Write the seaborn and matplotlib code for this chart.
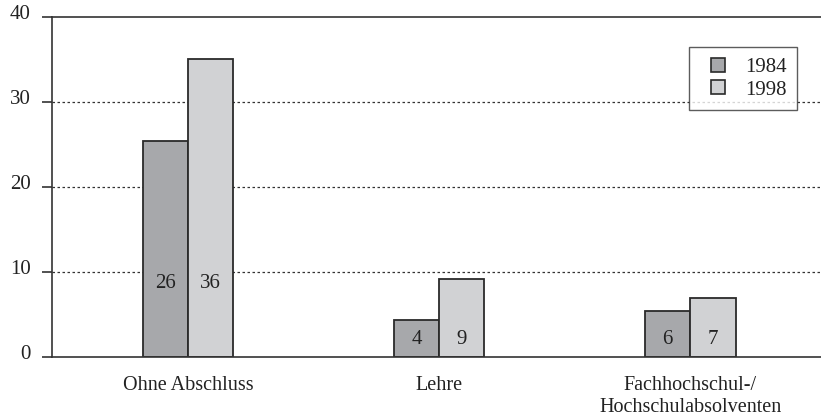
import matplotlib
matplotlib.use("Agg")
import matplotlib.pyplot as plt
import matplotlib.transforms as mtransforms
import seaborn as sns
import pandas as pd
from matplotlib.lines import Line2D

categories = ["Ohne Abschluss", "Lehre", "Fachhochschul-/\nHochschulabsolventen"]
years = ["1984", "1998"]
values_1984 = [25.4, 4.35, 5.4]
values_1998 = [35.05, 9.2, 6.9]
labels_1984 = ["26", "4", "6"]
labels_1998 = ["36", "9", "7"]

sns.set_style("white", {"ytick.left": True, "axes.edgecolor": "#333333"})
plt.rcParams["font.family"] = ["Liberation Serif", "DejaVu Serif"]
plt.rcParams["ytick.major.size"] = 7.2
plt.rcParams["ytick.major.width"] = 1.2

df = pd.DataFrame({
    "cat": categories * 2,
    "year": [years[0]] * 3 + [years[1]] * 3,
    "val": values_1984 + values_1998,
})

colors = ["#a7a8ab", "#d1d2d4"]
edge = "#2a2a2a"
fig = plt.figure(figsize=(8.21, 4.17), dpi=100)
ax = fig.add_axes([52 / 821, 1 - 357 / 417, 1 - 52 / 821, (357 - 17) / 417])

sns.barplot(data=df, x="cat", y="val", hue="year", palette=colors, width=0.36,
            edgecolor=edge, linewidth=1.3, ax=ax, legend=False, saturation=1)

ax.set_xlim(-0.542, 2.52)
ax.set_ylim(0, 40)
ax.set_yticks([0, 10, 20, 30, 40])
ax.set_xlabel("")
ax.set_ylabel("")
for y in [10, 20, 30]:
    ax.axhline(y, color="#333333", linestyle=(0, (2, 2)), linewidth=0.9, zorder=0)

for s in ["top", "left", "bottom"]:
    ax.spines[s].set_visible(True)
    ax.spines[s].set_color("#333333")
    ax.spines[s].set_linewidth(1.2)
ax.spines["right"].set_visible(False)

ax.tick_params(axis="y", which="major", left=True, direction="out", length=7.2, width=1.2,
               color="#333333", labelsize=15, pad=8.0, labelcolor="#222222")
ax.tick_params(axis="x", bottom=False, labelsize=14.5, pad=10.5, labelcolor="#222222")
offset = mtransforms.ScaledTranslation(0, 2 / 72, fig.dpi_scale_trans)
for lbl in ax.get_yticklabels():
    lbl.set_verticalalignment("center")
    lbl.set_transform(lbl.get_transform() + offset)

# value labels
for i in range(len(categories)):
    ly = 8.7 if max(values_1984[i], values_1998[i]) > 20 else 2.0
    ax.text(i - 0.09, ly, labels_1984[i], ha="center", va="center", fontsize=15, color="#222222")
    ax.text(i + 0.09, ly, labels_1998[i], ha="center", va="center", fontsize=15, color="#222222")

handles = [Line2D([], [], linestyle="none", marker="s", markersize=10, markerfacecolor=c,
                  markeredgecolor=edge, markeredgewidth=1.2) for c in colors]
leg = ax.legend(handles, years, loc="upper right",
                bbox_to_anchor=((797 - 52) / 769, (357 - 47) / 340),
                frameon=True, fancybox=False, fontsize=15, handlelength=1.84,
                handletextpad=0.36, borderpad=0.5, labelspacing=0.15, borderaxespad=0)
leg.get_frame().set_edgecolor("#333333")
leg.get_frame().set_linewidth(1.0)
for t in leg.get_texts():
    t.set_color("#222222")

fig.savefig("out.png", dpi=100)
